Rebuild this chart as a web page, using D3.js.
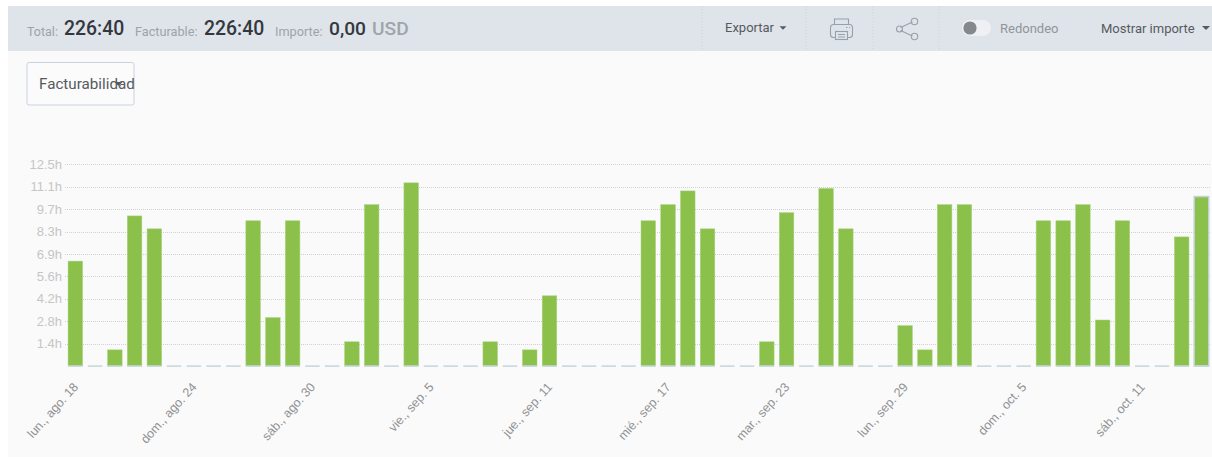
<!DOCTYPE html>
<html>
<head>
<meta charset="utf-8">
<script src="https://cdn.jsdelivr.net/npm/d3@7"></script>
<style>
  html, body { margin: 0; padding: 0; background: #fff; overflow: hidden; }
  svg { display: block; }
  text { font-family: Roboto, sans-serif; }
  .axis text { font-family: "Liberation Sans", sans-serif; font-size: 13px; fill: #c4c6c8; }
  .axis.x text { fill: #8f9193; font-size: 12.5px; }
  .axis path, .axis line { display: none; }
  .grid line { stroke: #cfd1d2; stroke-dasharray: 1 1; }
</style>
</head>
<body>
<div id="chart"></div>
<script>
// one entry per day, lun., ago. 18 through mar., oct. 14
const days = ["ago. 18","ago. 19","ago. 20","ago. 21","ago. 22","ago. 23","ago. 24","ago. 25","ago. 26","ago. 27","ago. 28","ago. 29","ago. 30","ago. 31",
  "sep. 1","sep. 2","sep. 3","sep. 4","sep. 5","sep. 6","sep. 7","sep. 8","sep. 9","sep. 10","sep. 11","sep. 12","sep. 13","sep. 14","sep. 15","sep. 16","sep. 17","sep. 18","sep. 19","sep. 20","sep. 21","sep. 22","sep. 23","sep. 24","sep. 25","sep. 26","sep. 27","sep. 28","sep. 29","sep. 30",
  "oct. 1","oct. 2","oct. 3","oct. 4","oct. 5","oct. 6","oct. 7","oct. 8","oct. 9","oct. 10","oct. 11","oct. 12","oct. 13","oct. 14"]
const hours = [6.5,0,1,9.3,8.5,0,0,0,0,9,3,9,0,0,1.5,10,0,11.35,0,0,0,1.5,0,1,4.35,0,0,0,0,9,10,10.85,8.5,0,0,1.5,9.5,0,11,8.5,0,0,2.5,1,10,10,0,0,0,9,9,10,2.85,9,0,0,8,10.5]
const yTicks = [1.39, 2.78, 4.17, 5.56, 6.94, 8.33, 9.72, 11.11, 12.5]
const yLabels = ["1.4h","2.8h","4.2h","5.6h","6.9h","8.3h","9.7h","11.1h","12.5h"]
const xTickDays = ["ago. 18","ago. 24","ago. 30","sep. 5","sep. 11","sep. 17","sep. 23","sep. 29","oct. 5","oct. 11"]
const xLabels = ["lun., ago. 18","dom., ago. 24","sáb., ago. 30","vie., sep. 5","jue., sep. 11","mié., sep. 17","mar., sep. 23","lun., sep. 29","dom., oct. 5","sáb., oct. 11"]

const width = 1212, height = 457
const svg = d3.select("#chart").append("svg").attr("width", width).attr("height", height)

// page background, white strip on the left and on top
svg.append("rect").attr("x", 8).attr("y", 6).attr("width", width - 8).attr("height", height - 6).attr("fill", "#fafafa")

// --- header bar ---
const head = svg.append("g")
head.append("rect").attr("x", 8).attr("y", 6).attr("width", width - 8).attr("height", 45).attr("fill", "#dfe4ea")

const addText = (x, y, str, size, color, weight) => head.append("text")
  .attr("x", x).attr("y", y).text(str)
  .style("font-size", size + "px").style("fill", color).style("font-weight", weight || 400)

addText(27, 36, "Total:", 12.5, "#9ea3a8")
addText(64, 35, "226:40", 19.4, "#33383d", 500)
addText(135, 36, "Facturable:", 12.7, "#9ea3a8")
addText(204, 35, "226:40", 19.4, "#33383d", 500)
addText(275, 36, "Importe:", 12.7, "#9ea3a8")
addText(329, 35, "0,00", 19.2, "#33383d", 500)
addText(372, 35, "USD", 19.2, "#a0a5aa", 500)
addText(725, 32, "Exportar", 13, "#555a60")
addText(1000, 33, "Redondeo", 13, "#90959a")
addText(1101, 33, "Mostrar importe", 13, "#555a60")

// dotted separators
;[702, 806, 873, 939].forEach(x => head.append("line")
  .attr("x1", x).attr("x2", x).attr("y1", 6).attr("y2", 51)
  .attr("stroke", "#cdd2d8").attr("stroke-dasharray", "1 2"))

// dropdown carets
;[[783, 28, 3.5], [1206, 28, 4]].forEach(([x, y, r]) => head.append("path")
  .attr("d", `M${x - r},${y - r / 2}h${2 * r}l${-r},${r}z`).attr("fill", "#555a60"))

// print icon
const printer = head.append("g").attr("fill", "none").attr("stroke", "#98a1a9").attr("stroke-width", 1.1)
printer.append("path").attr("d", "M834.5,24.5v-5.5h14v5.5")
printer.append("rect").attr("x", 830.5).attr("y", 24.5).attr("width", 22).attr("height", 13).attr("rx", 3)
printer.append("rect").attr("x", 835.5).attr("y", 31.5).attr("width", 12).attr("height", 8).attr("fill", "#dfe4ea")
printer.append("path").attr("d", "M838,34.5h7M838,37h7M846,27.5h1.5M849,27.5h1")

// share icon
const share = head.append("g").attr("fill", "none").attr("stroke", "#98a1a9").attr("stroke-width", 1.1)
share.append("path").attr("d", "M900.5,27.5L912.5,22M900.5,30.5L912.5,36")
;[[899.5, 29, 3], [914.5, 21.5, 3.2], [914.5, 36.5, 3.2]].forEach(([x, y, r]) =>
  share.append("circle").attr("cx", x).attr("cy", y).attr("r", r))

// toggle
head.append("rect").attr("x", 962).attr("y", 20).attr("width", 29).attr("height", 16).attr("rx", 8).attr("fill", "#eef0f3")
head.append("circle").attr("cx", 970).attr("cy", 28).attr("r", 6.6).attr("fill", "#85888c")

// Facturabilidad dropdown, the caret really does sit on top of the label
svg.append("rect").attr("x", 27).attr("y", 62.5).attr("width", 107).attr("height", 42.5).attr("rx", 2)
  .attr("fill", "#fbfbfc").attr("stroke", "#c8d3df")
svg.append("text").attr("x", 39).attr("y", 89).text("Facturabilidad")
  .style("font-size", "15.2px").style("fill", "#555a5f")
svg.append("path").attr("d", "M114.5,82h8l-4,4z").attr("fill", "#555a5f")

// --- chart ---
const step = 19.755
const x = d3.scaleBand().domain(days).range([65.5, 65.5 + step * days.length]).paddingInner(0.265).paddingOuter(0.13)
const y = d3.scaleLinear().domain([0, 12.5]).range([366, 164.3])

svg.append("g").attr("class", "grid")
  .selectAll("line").data(yTicks).join("line")
  .attr("x1", 65).attr("x2", 1210)
  .attr("y1", d => Math.round(y(d)) + 0.5).attr("y2", d => Math.round(y(d)) + 0.5)

svg.append("g").attr("class", "axis y").attr("transform", "translate(62,0)")
  .call(d3.axisLeft(y).tickValues(yTicks).tickSize(0).tickPadding(0).tickFormat((d, i) => yLabels[i]))

svg.append("g").attr("class", "axis x").attr("transform", "translate(0,366)")
  .call(d3.axisBottom(x).tickValues(xTickDays).tickSize(0).tickFormat((d, i) => xLabels[i]))
  .selectAll("text")
  .attr("text-anchor", "end").attr("dy", 0).attr("y", 0)
  .attr("transform", "translate(3.5,21.5) rotate(-48)")

const last = days[days.length - 1]
svg.append("g").selectAll("rect").data(days).join("rect")
  .attr("x", d => x(d))
  .attr("width", x.bandwidth())
  .attr("y", (d, i) => y(hours[i]))
  .attr("height", (d, i) => y(0) - y(hours[i]))
  .attr("fill", "#8bc14b")
  .attr("stroke", d => d === last ? "#bfd2d6" : "#a8d07e")
  .attr("stroke-width", d => d === last ? 1.5 : 0.5)

// the thin blue-grey foot under every day
svg.append("g").selectAll("rect").data(days).join("rect")
  .attr("x", d => x(d)).attr("width", x.bandwidth())
  .attr("y", y(0) - 0.7).attr("height", 1.6).attr("fill", "#c8d7dd")
</script>
</body>
</html>
